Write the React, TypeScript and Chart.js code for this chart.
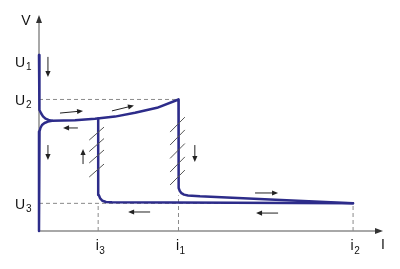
import { useEffect, useRef } from "react";
import { Chart, registerables } from "chart.js";

Chart.register(...registerables);

// Characteristic levels (arbitrary units: I 0..100, V 0..100)
const I3 = 17.2;
const I1 = 40.55;
const I2 = 91.3;
const U1 = 78.7;
const U2 = 60.9;
const U3 = 12.8;

// Curve branches [I, V]
const branchForward: [number, number][] = [
  [0, 81.5], [0, 60.6], [0.09, 57.9], [0.29, 56.0], [0.64, 54.4], [1.16, 53.1],
  [1.89, 52.0], [2.76, 51.4], [3.78, 51.0], [10.47, 51.25], [16.28, 51.94],
  [22.09, 52.96], [27.91, 54.72], [34.3, 57.04], [40.55, 60.88],
  [40.55, 21.76], [40.64, 19.91], [40.93, 18.52], [41.42, 17.5], [42.15, 16.85],
  [43.31, 16.48], [46.8, 16.06], [67.15, 14.63], [91.28, 12.87],
];
const branchReturn: [number, number][] = [
  [91.28, 12.87], [21.22, 13.29], [19.48, 13.43], [18.46, 13.98], [17.79, 15.05],
  [17.38, 16.67], [17.21, 18.98], [17.21, 52.04],
];
const branchLower: [number, number][] = [
  [3.78, 51.0], [2.62, 50.65], [1.6, 50.0], [0.87, 49.07], [0.41, 47.69],
  [0.15, 46.06], [0, 43.98], [0, 0],
];

// Direction arrows [fromI, fromV, toI, toV]
const flowArrows: [number, number, number, number][] = [
  [2.6, 80.6, 2.6, 71.3],
  [6.1, 54.6, 12.8, 55.6],
  [21.2, 55.6, 27.6, 58.1],
  [11.3, 47.7, 7.0, 47.7],
  [2.6, 39.8, 2.6, 32.9],
  [12.8, 31.0, 12.8, 38.0],
  [45.3, 39.8, 45.3, 31.9],
  [32.3, 8.8, 25.9, 8.8],
  [62.8, 17.6, 69.5, 17.6],
  [69.5, 8.3, 63.1, 8.3],
];

// Hatch strokes [fromI, fromV, toI, toV]
const hatches: [number, number, number, number][] = [
  [14.6, 42.1, 18.9, 48.1],
  [14.6, 36.8, 18.9, 42.8],
  [14.6, 31.5, 18.9, 37.5],
  [14.6, 25.0, 18.9, 31.0],
  [38.1, 45.8, 42.4, 52.7],
  [38.1, 39.8, 42.4, 46.8],
  [38.1, 33.6, 42.4, 40.5],
  [38.1, 27.3, 42.4, 34.3],
  [38.1, 21.3, 42.4, 28.2],
];

const vLabels: { main: string; sub: string; value: number }[] = [
  { main: "U", sub: "1", value: U1 },
  { main: "U", sub: "2", value: U2 },
  { main: "U", sub: "3", value: U3 },
];
const iLabels: { main: string; sub: string; value: number }[] = [
  { main: "i", sub: "3", value: I3 },
  { main: "i", sub: "1", value: I1 },
  { main: "i", sub: "2", value: I2 },
];

const toPts = (a: [number, number][]) => a.map(([x, y]) => ({ x, y }));

const CURVE = "#2d2c8a";
const DASH = "#8a8a8a";
const FONT = '"Liberation Sans", Arial, sans-serif';

function head(ctx: CanvasRenderingContext2D, x1: number, y1: number, x2: number, y2: number, len: number, hw: number) {
  const a = Math.atan2(y2 - y1, x2 - x1);
  ctx.beginPath();
  ctx.moveTo(x2, y2);
  ctx.lineTo(x2 - len * Math.cos(a) + hw * Math.sin(a), y2 - len * Math.sin(a) - hw * Math.cos(a));
  ctx.lineTo(x2 - len * Math.cos(a) - hw * Math.sin(a), y2 - len * Math.sin(a) + hw * Math.cos(a));
  ctx.closePath();
  ctx.fill();
}

const diagramPlugin = {
  id: "diagram",
  beforeDatasetsDraw(chart: any) {
    const { ctx } = chart;
    const xs = chart.scales.x;
    const ys = chart.scales.y;
    const ox = xs.getPixelForValue(0);
    const oy = ys.getPixelForValue(0);
    const top = ys.getPixelForValue(100);
    const right = xs.getPixelForValue(100);
    ctx.save();
    ctx.strokeStyle = "#8c8c8c";
    ctx.lineWidth = 1.5;
    ctx.beginPath();
    ctx.moveTo(ox, top + 4);
    ctx.lineTo(ox, oy);
    ctx.lineTo(right - 4, oy);
    ctx.stroke();
    ctx.fillStyle = "#333";
    head(ctx, ox, top + 10, ox, top, 8, 3);
    head(ctx, right - 10, oy, right, oy, 8, 3);
    ctx.restore();
  },
  afterDatasetsDraw(chart: any) {
    const { ctx } = chart;
    const xs = chart.scales.x;
    const ys = chart.scales.y;
    const px = (v: number) => xs.getPixelForValue(v);
    const py = (v: number) => ys.getPixelForValue(v);
    ctx.save();
    // hatches
    ctx.strokeStyle = "#555";
    ctx.lineWidth = 1;
    hatches.forEach(([a, b, c, d]) => {
      ctx.beginPath();
      ctx.moveTo(px(a), py(b));
      ctx.lineTo(px(c), py(d));
      ctx.stroke();
    });
    // flow arrows
    ctx.strokeStyle = "#222";
    ctx.fillStyle = "#222";
    ctx.lineWidth = 1;
    flowArrows.forEach(([a, b, c, d]) => {
      const x1 = px(a), y1 = py(b), x2 = px(c), y2 = py(d);
      const ang = Math.atan2(y2 - y1, x2 - x1);
      ctx.beginPath();
      ctx.moveTo(x1, y1);
      ctx.lineTo(x2 - 4 * Math.cos(ang), y2 - 4 * Math.sin(ang));
      ctx.stroke();
      head(ctx, x1, y1, x2, y2, 6, 2.6);
    });
    // labels
    ctx.fillStyle = "#111";
    ctx.textBaseline = "alphabetic";
    const ox = px(0);
    const oy = py(0);
    ctx.font = `14px ${FONT}`;
    ctx.textAlign = "center";
    ctx.fillText("V", ox - 13, py(100) + 10);
    ctx.fillText("I", px(100), oy + 18);
    ctx.textAlign = "left";
    vLabels.forEach((l) => {
      const bx = ox - 24;
      const by = py(l.value) + 6;
      ctx.font = `14px ${FONT}`;
      ctx.fillText(l.main, bx, by);
      const w = ctx.measureText(l.main).width;
      ctx.font = `10px ${FONT}`;
      ctx.fillText(l.sub, bx + w + 1, by + 3);
    });
    iLabels.forEach((l) => {
      const bx = px(l.value) - 2.5;
      const by = oy + 19;
      ctx.font = `14px ${FONT}`;
      ctx.fillText(l.main, bx, by);
      const w = ctx.measureText(l.main).width;
      ctx.font = `10px ${FONT}`;
      ctx.fillText(l.sub, bx + w + 0.5, by + 3.5);
    });
    ctx.restore();
  },
};

export default function App() {
  const ref = useRef<HTMLCanvasElement | null>(null);
  useEffect(() => {
    document.body.style.margin = "0";
    if (!ref.current) return;
    const curveStyle = {
      showLine: true,
      borderColor: CURVE,
      borderWidth: 2.5,
      pointRadius: 0,
      tension: 0,
      fill: false,
      clip: false as const,
      order: 0,
      borderCapStyle: "round" as const,
      borderJoinStyle: "round" as const,
    };
    const dashStyle = {
      showLine: true,
      borderColor: DASH,
      borderWidth: 1,
      borderDash: [4, 3],
      pointRadius: 0,
      tension: 0,
      fill: false,
      clip: false as const,
      order: 1,
    };
    const chart = new Chart(ref.current, {
      type: "scatter",
      data: {
        datasets: [
          { ...curveStyle, data: toPts(branchForward) },
          { ...curveStyle, data: toPts(branchReturn) },
          { ...curveStyle, data: toPts(branchLower) },
          { ...dashStyle, data: [{ x: 0, y: U2 }, { x: I1, y: U2 }] },
          { ...dashStyle, data: [{ x: 0, y: U3 }, { x: I2, y: U3 }] },
          { ...dashStyle, data: [{ x: I3, y: 0 }, { x: I3, y: U3 }] },
          { ...dashStyle, data: [{ x: I1, y: 0 }, { x: I1, y: 16.5 }] },
          { ...dashStyle, data: [{ x: I2, y: 0 }, { x: I2, y: U3 }] },
        ] as any,
      },
      options: {
        animation: false,
        responsive: false,
        devicePixelRatio: 1,
        layout: { padding: { left: 39, right: 17, top: 15, bottom: 38 } },
        plugins: { legend: { display: false }, tooltip: { enabled: false } },
        events: [],
        scales: {
          x: { type: "linear", min: 0, max: 100, display: false },
          y: { type: "linear", min: 0, max: 100, display: false },
        },
      },
      plugins: [diagramPlugin],
    });
    return () => chart.destroy();
  }, []);
  return (
    <div style={{ position: "absolute", left: 0, top: 0, width: 400, height: 269, background: "#fff" }}>
      <canvas ref={ref} width={400} height={269} />
    </div>
  );
}
